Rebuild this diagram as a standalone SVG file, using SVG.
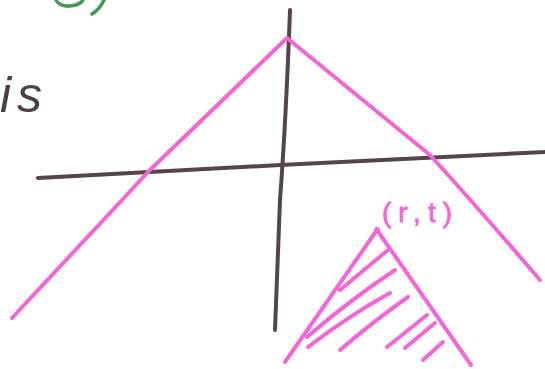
<svg xmlns="http://www.w3.org/2000/svg" width="545" height="369" viewBox="0 0 545 369">
<style>
.pk{fill:none;stroke:#f266d6;stroke-width:4;stroke-linecap:round;stroke-linejoin:round}
.dk{fill:none;stroke:#56434c;stroke-width:4;stroke-linecap:round}
.gr{fill:none;stroke:#3f9a55;stroke-width:3.5;stroke-linecap:round}
</style>
<rect width="545" height="369" fill="#ffffff"/>
<g id="green-scrawl">
<path class="gr" d="M56 0 Q60 7 70 6 Q80 5 83 0"/>
<path class="gr" d="M104 0 Q100 9 92 14"/>
</g>
<text x="0" y="112" font-family="Liberation Sans, sans-serif" font-style="italic" font-size="50" fill="#4e3d4c" letter-spacing="6">is</text>
<g id="axes">
<path class="dk" d="M290 10 Q286 120 280 200 L275 330"/>
<path class="dk" d="M38 178 L280 165 L545 152"/>
</g>
<g id="big-v">
<path class="pk" d="M12 318 L150 170 L287 38 L430 155 Q480 210 540 280"/>
</g>
<g id="small-triangle">
<path class="pk" d="M285 362 L377 230 L471 365"/>
<circle cx="377" cy="230" r="3" fill="#f266d6"/>
<g class="pk" stroke-width="3.5">
<path d="M340 290 L388 250"/>
<path d="M307 337 Q350 300 395 270"/>
<path d="M308 347 Q350 315 390 293"/>
<path d="M340 350 Q375 320 408 297"/>
<path d="M387 347 L427 315"/>
<path d="M405 348 L435 323"/>
<path d="M423 360 L443 342"/>
</g>
<text x="382" y="222" font-family="Liberation Sans, sans-serif" font-size="28" fill="#f266d6" stroke="#f266d6" stroke-width="0.8" letter-spacing="7">(r,t)</text>
</g>
</svg>
